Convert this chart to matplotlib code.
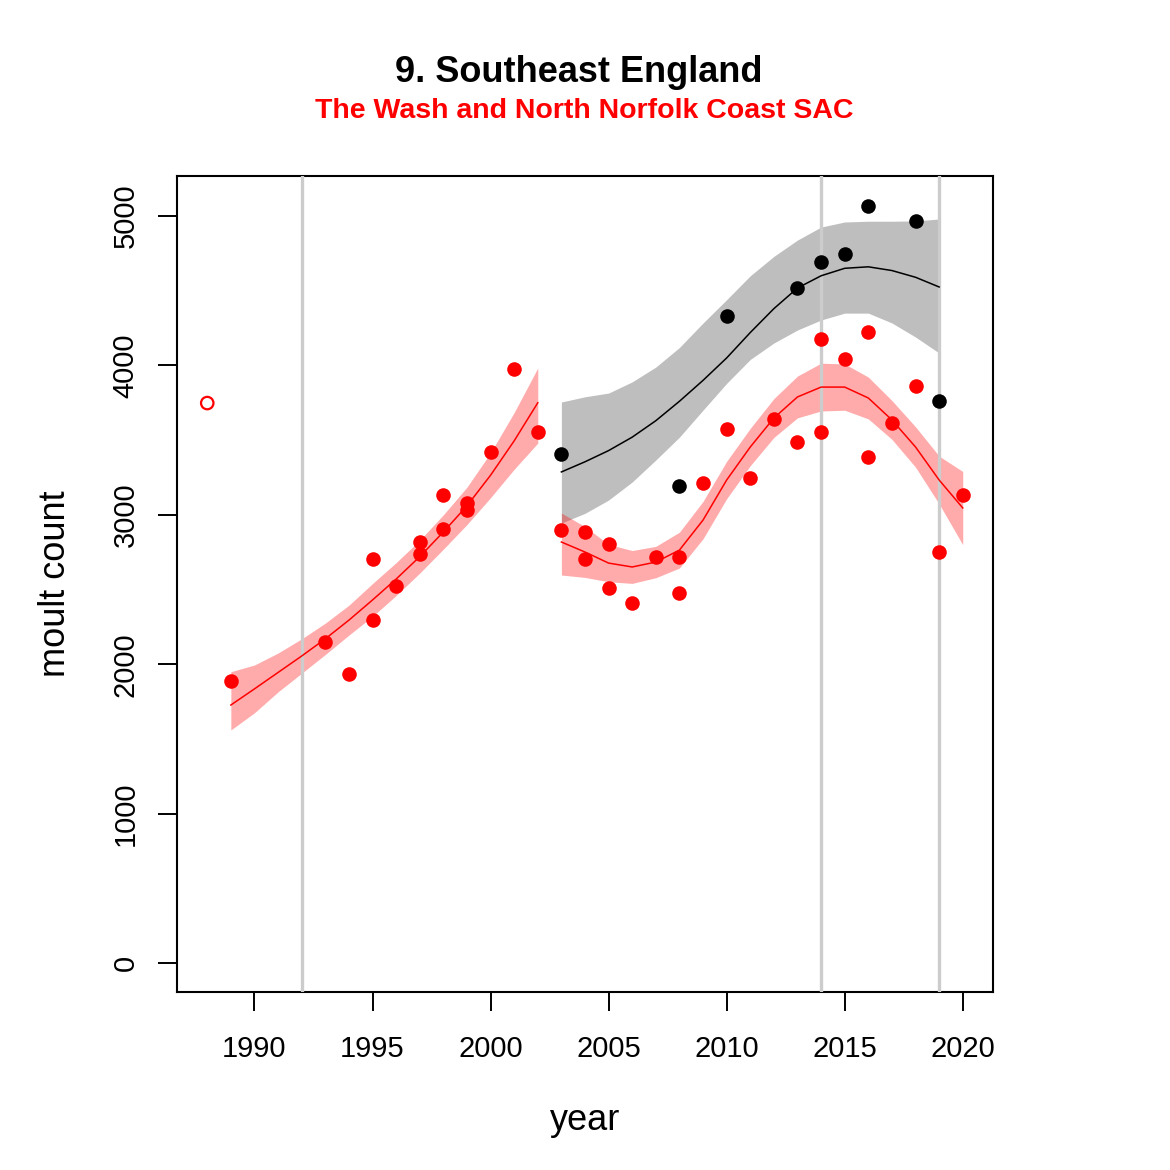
import matplotlib.pyplot as plt

plt.rcParams['font.family'] = ['Liberation Sans', 'DejaVu Sans']

# observed moult counts (red = SAC, black = second series)
red_years = [1989, 1993, 1994, 1995, 1995, 1996, 1997, 1997, 1998, 1998, 1999, 1999,
             2000, 2001, 2002, 2003, 2004, 2004, 2005, 2005, 2006, 2007, 2008, 2008,
             2009, 2010, 2011, 2012, 2013, 2014, 2014, 2015, 2016, 2016, 2017, 2018,
             2019, 2020]
red_counts = [1888, 2149, 1934, 2704, 2296, 2523, 2818, 2738, 3133, 2905, 3079, 3032,
              3420, 3976, 3554, 2898, 2885, 2704, 2805, 2510, 2410, 2718, 2718, 2477,
              3213, 3574, 3246, 3641, 3487, 4177, 3554, 4043, 4224, 3387, 3614, 3862,
              2751, 3132]
excluded_year = [1988]
excluded_count = [3748]

black_years = [2003, 2008, 2010, 2013, 2014, 2015, 2016, 2018, 2019]
black_counts = [3407, 3193, 4331, 4518, 4692, 4746, 5067, 4967, 3762]

# fitted trends with confidence bands
fit1_years = list(range(1989, 2003))
fit1 = [1727, 1835, 1945, 2055, 2170, 2295, 2430, 2570, 2720, 2885, 3060, 3265, 3495, 3750]
fit1_hi = [1950, 1995, 2075, 2170, 2275, 2395, 2540, 2680, 2830, 3000, 3185, 3415, 3685, 3983]
fit1_lo = [1560, 1675, 1815, 1940, 2065, 2195, 2320, 2460, 2610, 2770, 2935, 3115, 3305, 3480]

fit2_years = list(range(2003, 2021))
fit2 = [2818, 2751, 2677, 2651, 2684, 2764, 2965, 3233, 3454, 3648, 3789, 3855, 3855, 3782,
        3635, 3454, 3233, 3046]
fit2_hi = [3012, 2921, 2802, 2761, 2789, 2884, 3090, 3358, 3579, 3778, 3929, 4015, 4010, 3922,
           3765, 3589, 3393, 3290]
fit2_lo = [2597, 2581, 2552, 2541, 2579, 2644, 2840, 3108, 3329, 3518, 3649, 3695, 3700, 3642,
           3505, 3319, 3073, 2800]

fit3_years = list(range(2003, 2020))
fit3 = [3287, 3355, 3430, 3520, 3630, 3760, 3900, 4050, 4220, 4380, 4518, 4600, 4650, 4660,
        4635, 4590, 4525]
fit3_hi = [3755, 3790, 3815, 3890, 3989, 4120, 4284, 4440, 4600, 4730, 4839, 4926, 4960, 4965,
           4965, 4967, 4980]
fit3_lo = [2945, 3010, 3099, 3220, 3367, 3520, 3701, 3880, 4040, 4150, 4237, 4304, 4350, 4350,
           4284, 4190, 4083]

marker_years = [1992, 2014, 2019]

fig = plt.figure(figsize=(11.7, 11.7), dpi=100)
ax = fig.add_axes([0.1513, 0.1521, 0.6974, 0.6975])

ax.fill_between(fit3_years, fit3_lo, fit3_hi, color='#bebebe', lw=0, zorder=1)
ax.fill_between(fit1_years, fit1_lo, fit1_hi, color='red', alpha=0.33, lw=0, zorder=1.5)
ax.fill_between(fit2_years, fit2_lo, fit2_hi, color='red', alpha=0.33, lw=0, zorder=1.5)

for yr in marker_years:
    ax.axvline(yr, color='#cccccc', lw=2.4, zorder=3)

ax.plot(fit3_years, fit3, color='black', lw=1.1, zorder=4)
ax.plot(fit1_years, fit1, color='red', lw=1.1, zorder=4)
ax.plot(fit2_years, fit2, color='red', lw=1.1, zorder=4)

ax.scatter(red_years, red_counts, s=110, color='red', lw=0, zorder=5)
ax.scatter(black_years, black_counts, s=110, color='black', lw=0, zorder=5)
ax.scatter(excluded_year, excluded_count, s=80, facecolors='none', edgecolors='red',
           linewidths=1.6, zorder=5)

ax.set_xlim(1986.72, 2021.28)
ax.set_ylim(-194, 5268)
ax.set_xticks([1990, 1995, 2000, 2005, 2010, 2015, 2020])
ax.set_yticks([0, 1000, 2000, 3000, 4000, 5000])
ax.tick_params(length=14, width=1.4, labelsize=21)
ax.tick_params(axis='x', pad=17)
ax.tick_params(axis='y', pad=13)
for lab in ax.get_yticklabels():
    lab.set_rotation(90)
    lab.set_va('center')
for s in ax.spines.values():
    s.set_linewidth(1.5)

ax.set_xlabel('year', fontsize=26, labelpad=29)
ax.set_ylabel('moult count', fontsize=26, labelpad=28)

fig.text(0.495, 0.938, '9. Southeast England', ha='center', va='center',
         fontsize=26, fontweight='bold')
fig.text(0.499, 0.905, 'The Wash and North Norfolk Coast SAC', ha='center', va='center',
         fontsize=20.5, fontweight='bold', color='red')

fig.savefig('out.png', dpi=100)
